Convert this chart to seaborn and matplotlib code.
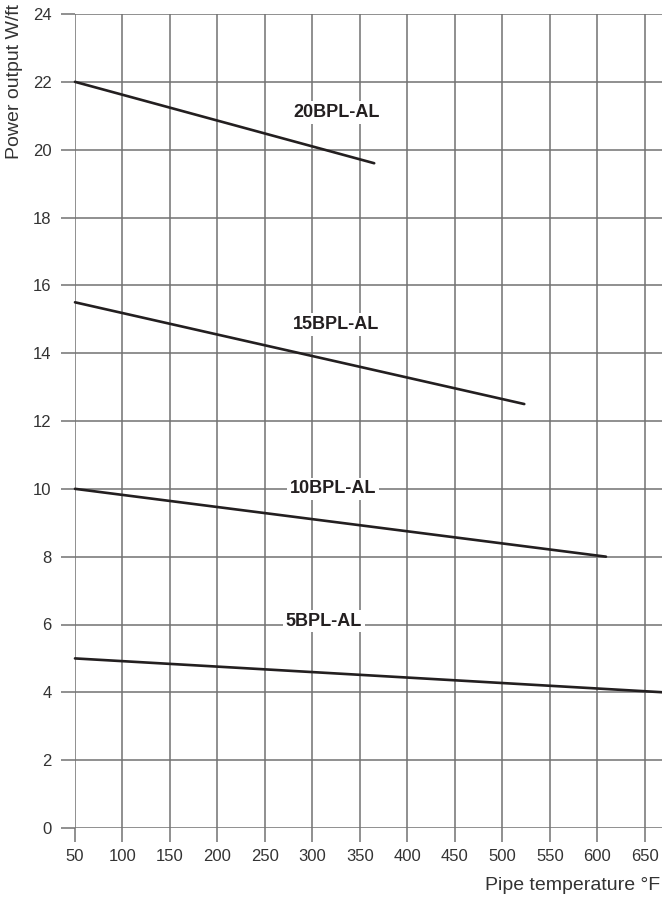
import pandas as pd
import matplotlib.pyplot as plt
import seaborn as sns

# data
series = ["20BPL-AL", "15BPL-AL", "10BPL-AL", "5BPL-AL"]
temp_start = [50, 50, 50, 50]
temp_end = [365, 523, 609, 670]
power_start = [22.0, 15.5, 10.0, 5.0]
power_end = [19.6, 12.5, 8.0, 4.0]
label_x = [325, 325, 322, 312]
label_y = [21.1, 14.85, 10.0, 6.1]

x_ticks = list(range(50, 651, 50))
y_ticks = list(range(0, 25, 2))

rows = []
for name, x0, x1, y0, y1 in zip(series, temp_start, temp_end, power_start, power_end):
    rows.append({"series": name, "temp": x0, "power": y0})
    rows.append({"series": name, "temp": x1, "power": y1})
df = pd.DataFrame(rows)

sns.set_style("white")
plt.rcParams['font.family'] = ['Liberation Sans', 'DejaVu Sans']

grid_c = "#727272"
txt_c = "#333333"

fig = plt.figure(figsize=(6.62, 8.98), dpi=100)
ax = fig.add_axes([75 / 662, 1 - 828 / 898, 1 - 75 / 662, (828 - 14) / 898])

for name in series:
    sub = df[df["series"] == name]
    sns.lineplot(data=sub, x="temp", y="power", color="#231f20", linewidth=1.9, ax=ax,
                 zorder=3, clip_on=False)

for name, lx, ly in zip(series, label_x, label_y):
    ax.text(lx, ly, name, ha="center", va="center", fontsize=13, fontweight="bold",
            color="#231f20", zorder=4,
            bbox=dict(facecolor="white", edgecolor="none", pad=2))

ax.set_xlim(50, 668)
ax.set_ylim(0, 24)
ax.set_xticks(x_ticks)
ax.set_yticks(y_ticks)
ax.grid(True, color=grid_c, linewidth=1.1)
for s in ax.spines.values():
    s.set_visible(False)
ax.tick_params(axis="both", bottom=True, left=True, length=10, width=1.1, color=grid_c,
               labelsize=12, labelcolor=txt_c)
ax.tick_params(axis="x", pad=5)
ax.tick_params(axis="y", pad=7)
ax.set_xlabel("")
ax.set_ylabel("")

fig.text(660 / 662, 1 - 885 / 898, "Pipe temperature °F", ha="right", va="center",
         fontsize=14, color=txt_c)
fig.text(15 / 662, 1 - 4 / 898, "Power output W/ft", ha="center", va="top",
         rotation=90, fontsize=14, color=txt_c)

plt.savefig("out.png", dpi=100)
